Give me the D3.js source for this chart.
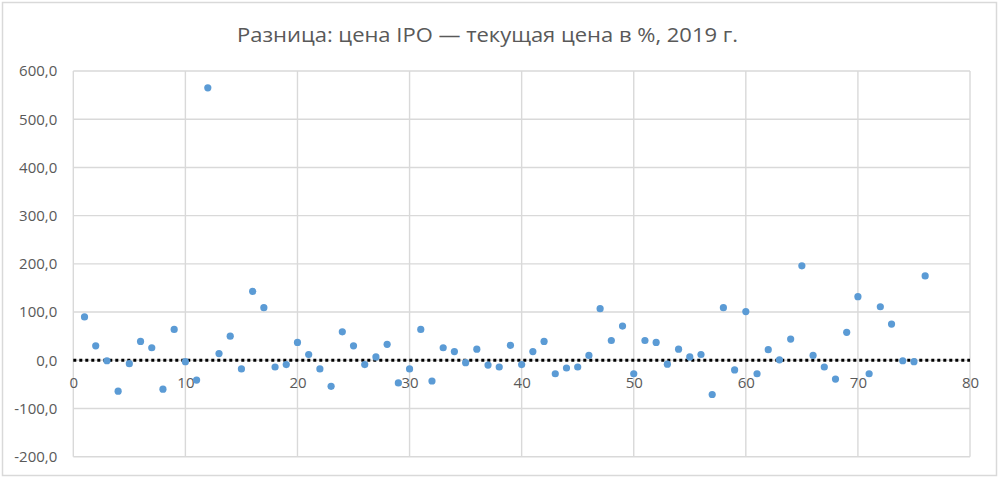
<!DOCTYPE html>
<html>
<head>
<meta charset="utf-8">
<script src="https://cdn.jsdelivr.net/npm/d3@7"></script>
<style>
  body { margin: 0; background: #fff; }
  text { font-family: "Open Sans", "Noto Sans", sans-serif; fill: #595959; }
</style>
</head>
<body>
<svg id="chart" width="1000" height="479"></svg>
<script>
// data
var titleText = "Разница: цена IPO — текущая цена в %, 2019 г.";
var xTicks = [0, 10, 20, 30, 40, 50, 60, 70, 80];
var yTicks = [-200, -100, 0, 100, 200, 300, 400, 500, 600];
var diffValues = [
  90, 30, -1, -64, -7, 39, 26, -60, 64, -3,
  -41, 565, 14, 50, -18, 143, 109, -14, -9, 37,
  12, -18, -54, 59, 30, -9, 7, 33, -47, -18,
  64, -43, 26, 18, -5, 23, -10, -14, 31, -9,
  18, 39, -28, -16, -14, 10, 107, 41, 71, -28,
  41, 37, -8, 23, 7, 12, -71, 109, -20, 101,
  -28, 22, 1, 44, 196, 10, -14, -39, 58, 132,
  -28, 111, 75, -1, -3, 175
];

var svg = d3.select("#chart");
var plotLeft = 73.3, plotRight = 970, plotTop = 71, plotBottom = 456.7;

var x = d3.scaleLinear().domain([0, 80]).range([plotLeft, plotRight]);
var y = d3.scaleLinear().domain([-200, 600]).range([plotBottom, plotTop]);

// outer border
svg.append("rect")
    .attr("x", 2.5).attr("y", 2.5)
    .attr("width", 994).attr("height", 473)
    .attr("fill", "white")
    .attr("stroke", "#d9d9d9")
    .attr("stroke-width", 1.5);

// title
svg.append("text")
    .attr("x", 487.5)
    .attr("y", 42)
    .attr("text-anchor", "middle")
    .attr("font-size", 20.5)
    .attr("textLength", 501)
    .attr("lengthAdjust", "spacingAndGlyphs")
    .text(titleText);

// grid
var grid = svg.append("g").attr("stroke", "#d9d9d9").attr("stroke-width", 1.4);
grid.selectAll("line.h")
    .data(yTicks)
    .enter().append("line")
    .attr("class", "h")
    .attr("x1", plotLeft).attr("x2", plotRight)
    .attr("y1", function(d){ return y(d); })
    .attr("y2", function(d){ return y(d); });
grid.selectAll("line.v")
    .data(xTicks)
    .enter().append("line")
    .attr("class", "v")
    .attr("y1", plotTop).attr("y2", plotBottom)
    .attr("x1", function(d){ return x(d); })
    .attr("x2", function(d){ return x(d); });

// y axis labels
var yAxis = d3.axisLeft(y)
    .tickValues(yTicks)
    .tickSize(0)
    .tickPadding(16)
    .tickFormat(function(d){ return d3.format(".1f")(d).replace(".", ",").replace("−", "-"); });
var gy = svg.append("g")
    .attr("transform", "translate(" + plotLeft + ",0)")
    .call(yAxis);
gy.select(".domain").remove();
gy.selectAll("text").attr("font-size", 15).attr("fill", "#595959");

// x axis labels sit under the zero line
var xAxis = d3.axisBottom(x)
    .tickValues(xTicks)
    .tickSize(0)
    .tickPadding(17.5)
    .tickFormat(d3.format("d"));
var gx = svg.append("g")
    .attr("transform", "translate(0," + y(0) + ")")
    .call(xAxis);
gx.select(".domain").remove();
gx.selectAll("text").attr("font-size", 15).attr("fill", "#595959");

// dotted zero line
svg.append("line")
    .attr("x1", plotLeft).attr("x2", plotRight)
    .attr("y1", y(0)).attr("y2", y(0))
    .attr("stroke", "black")
    .attr("stroke-width", 3)
    .attr("stroke-dasharray", "3,3");

// points
svg.selectAll("circle.pt")
    .data(diffValues)
    .enter().append("circle")
    .attr("class", "pt")
    .attr("cx", function(d, i){ return x(i + 1); })
    .attr("cy", function(d){ return y(d); })
    .attr("r", 3.6)
    .attr("fill", "#5b9bd5");
</script>
</body>
</html>
